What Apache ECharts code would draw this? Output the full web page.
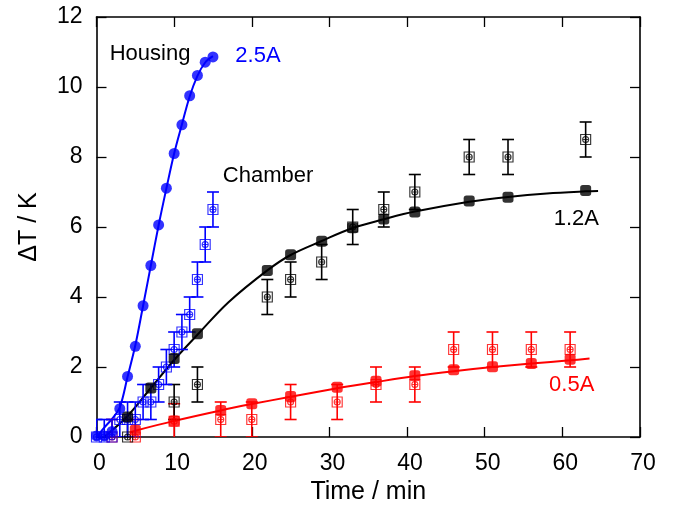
<!DOCTYPE html>
<html>
<head>
<meta charset="utf-8">
<script src="https://cdn.jsdelivr.net/npm/echarts@6/dist/echarts.min.js"></script>
<style>html,body{margin:0;padding:0;background:#fff}#c{width:676px;height:510px}</style>
</head>
<body>
<div id="c"></div>
<script>
// ---- data (time in min, ΔT in K) ----
const xTickValues = [0, 10, 20, 30, 40, 50, 60, 70];
const yTickValues = [0, 2, 4, 6, 8, 10, 12];

const housing25 = [[0,0.03],[1,0.03],[2,0.16],[3,0.81],[4,1.73],[5,2.59],[6,3.75],[7,4.9],[8,6.06],[9,7.11],[10,8.1],[11,8.92],[12,9.75],[13,10.33],[14,10.71],[15,10.86]];
const housing25Fit = [[0,0],[1,0.27],[2,0.52],[3,0.85],[4,1.72],[5,2.62],[6,3.75],[7,4.9],[8,6.05],[9,7.1],[10,8.1],[11,8.93],[12,9.73],[13,10.32],[14,10.7],[15,10.88]];
const chamber25 = [[0,0],[1,0],[2,0],[3,0.5],[4,0.5],[5,0.5],[6,1.0],[7,1.0],[8,1.5],[9,2.0],[10,2.5],[11,3.0],[12,3.5],[13,4.5],[14,5.5],[15,6.5]];

const housing12 = [[4,0.57],[7,1.4],[10,2.24],[13,2.95],[22,4.76],[25,5.21],[29,5.59],[33,5.98],[37,6.23],[41,6.43],[48,6.74],[53,6.85],[63,7.04]];
const housing12Fit = [[1,0],[4,0.6],[7,1.4],[10,2.2],[13,2.92],[17,3.85],[22,4.76],[25,5.2],[29,5.6],[33,5.97],[37,6.22],[41,6.44],[48,6.72],[53,6.86],[58,6.96],[63,7.02],[64.6,7.03]];
const chamber12 = [[4,0],[10,1.0],[13,1.5],[22,4.0],[25,4.5],[29,5.0],[33,6.0],[37,6.5],[41,7.0],[48,8.0],[53,8.0],[63,8.5]];

const housing05 = [[5,0.19],[10,0.46],[16,0.76],[20,0.95],[25,1.16],[31,1.42],[36,1.59],[41,1.75],[46,1.92],[51,2.01],[56,2.1],[61,2.22]];
const housing05Fit = [[4.3,0.13],[5,0.18],[10,0.46],[16,0.76],[20,0.94],[25,1.15],[31,1.39],[36,1.57],[41,1.74],[46,1.88],[51,2.0],[56,2.1],[61,2.19],[63.5,2.24]];
const chamber05 = [[2,0],[5,0],[10,0.45],[16,0.5],[20,0.5],[25,1.0],[31,1.0],[36,1.5],[41,1.5],[46,2.5],[51,2.5],[56,2.5],[61,2.5]];

const chamberErr = 0.5;

const annotationNames = ['Housing', 'Chamber', '2.5A', '1.2A', '0.5A'];
const annotationX = [6.9, 22.1, 20.8, 61.8, 61.2];
const annotationY = [10.95, 7.47, 10.9, 6.22, 1.49];

// ---- styling ----
const BLUE = '#0000ff', BLACK = '#000000', RED = '#ff0000';
const annotationColors = [BLACK, BLACK, BLUE, BLACK, RED];
const FONT = 'Liberation Sans';
const TICK_FS = 23, NAME_FS = 25, NOTE_FS = 22;
const openSymbol = 'path://M0,0L10,0L10,10L0,10Z M8,5A3,3 0 1 1 2,5A3,3 0 1 1 8,5Z M2,5L8,5 M5,2L5,8';

function errBars(color) {
  return function (params, api) {
    const x = api.value(0), y = api.value(1), e = api.value(2);
    const lo = api.coord([x, y - e]), hi = api.coord([x, y + e]);
    const hw = 6;
    const st = { stroke: color, lineWidth: 1.6 };
    return { type: 'group', children: [
      { type: 'line', shape: { x1: lo[0], y1: lo[1], x2: hi[0], y2: hi[1] }, style: st },
      { type: 'line', shape: { x1: lo[0] - hw, y1: lo[1], x2: lo[0] + hw, y2: lo[1] }, style: st },
      { type: 'line', shape: { x1: hi[0] - hw, y1: hi[1], x2: hi[0] + hw, y2: hi[1] }, style: st }
    ]};
  };
}
function withErr(arr) { return arr.map(p => [p[0], p[1], chamberErr]); }

function fitLine(data, color) {
  return { type: 'line', data: data, smooth: 0.35, showSymbol: false, symbol: 'none',
    lineStyle: { color: color, width: 2 }, z: 2, silent: true, animation: false };
}
function errSeries(data, color) {
  return { type: 'custom', data: withErr(data), renderItem: errBars(color), clip: true, z: 3, silent: true, animation: false,
    encode: { x: 0, y: 1 } };
}
function openSeries(data, color) {
  return { type: 'scatter', data: data, symbol: openSymbol, symbolSize: 10,
    itemStyle: { color: 'rgba(255,255,255,0)', borderColor: color, borderWidth: 1.15 }, z: 4, silent: true, animation: false };
}
function filledSeries(data, color, sym, size) {
  return { type: 'scatter', data: data, symbol: sym, symbolSize: size,
    itemStyle: { color: color }, z: 5, silent: true, animation: false };
}

const tickStyle = { show: true, inside: true, length: 10, lineStyle: { color: '#000', width: 1.3 } };
function mkAxis(extra, ticks) {
  return Object.assign({
    axisLine: { show: true, onZero: false, lineStyle: { color: '#000', width: 1.6 } },
    axisTick: Object.assign({}, tickStyle, { customValues: ticks }),
    splitLine: { show: false }
  }, extra);
}

const chart = echarts.init(document.getElementById('c'), null, { renderer: 'canvas' });
chart.setOption({
  animation: false,
  backgroundColor: '#fff',
  textStyle: { fontFamily: FONT },
  grid: { left: 96.5, right: 36, top: 17, bottom: 68, containLabel: false },
  xAxis: [
    mkAxis({
      type: 'value', min: 0, max: 70, interval: 10, position: 'bottom',
      name: 'Time / min', nameLocation: 'middle', nameGap: 43,
      nameTextStyle: { fontFamily: FONT, fontSize: NAME_FS, color: '#000' },
      axisLabel: { customValues: xTickValues, fontFamily: FONT, fontSize: TICK_FS, color: '#000', margin: 15, padding: [0, 0, 0, 6] }
    }, xTickValues),
    mkAxis({
      type: 'value', min: 0, max: 70, interval: 10, position: 'top',
      axisLabel: { show: false }
    }, xTickValues)
  ],
  yAxis: [
    mkAxis({
      type: 'value', min: 0, max: 12, interval: 2, position: 'left',
      name: 'ΔT / K', nameLocation: 'middle', nameGap: 55, nameRotate: 90,
      nameTextStyle: { fontFamily: FONT, fontSize: NAME_FS, color: '#000' },
      axisLabel: { customValues: yTickValues, fontFamily: FONT, fontSize: TICK_FS, color: '#000', margin: 14 }
    }, yTickValues),
    mkAxis({
      type: 'value', min: 0, max: 12, interval: 2, position: 'right',
      axisLabel: { show: false }
    }, yTickValues)
  ],
  series: [
    fitLine(housing05Fit, RED),
    fitLine(housing12Fit, BLACK),
    fitLine(housing25Fit, BLUE),
    errSeries(chamber05, RED),
    errSeries(chamber12, BLACK),
    errSeries(chamber25, BLUE),
    openSeries(chamber05, RED),
    openSeries(chamber12, BLACK),
    openSeries(chamber25, BLUE),
    filledSeries(housing05, RED, 'roundRect', 11),
    filledSeries(housing12, BLACK, 'roundRect', 11),
    filledSeries(housing25, BLUE, 'circle', 11),
    {
      type: 'scatter', symbolSize: 1, z: 6, silent: true, animation: false,
      itemStyle: { opacity: 0 },
      data: annotationNames.map((n, i) => ({
        name: n, value: [annotationX[i], annotationY[i]],
        label: { color: annotationColors[i] }
      })),
      label: { show: true, position: 'inside', formatter: '{b}', fontFamily: FONT, fontSize: NOTE_FS,
        textBorderWidth: 0, textBorderColor: 'transparent', opacity: 1 }
    }
  ]
});
</script>
</body>
</html>
